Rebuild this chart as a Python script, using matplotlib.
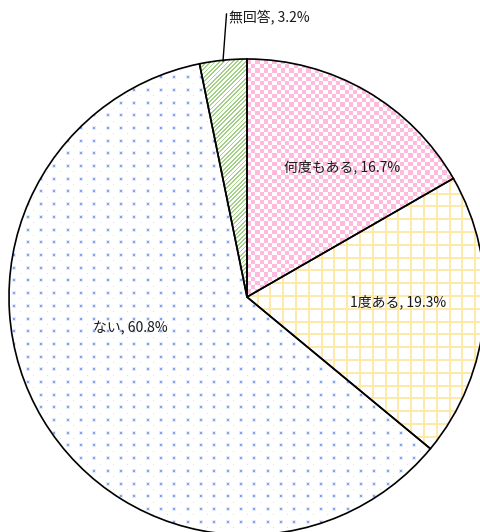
import numpy as np
import matplotlib
matplotlib.use('Agg')
import matplotlib.pyplot as plt

plt.rcParams['font.family'] = ['Noto Sans CJK JP', 'DejaVu Sans']

labels = ['何度もある', '1度ある', 'ない', '無回答']
values = [16.7, 19.3, 60.8, 3.2]

W, H = 480, 532
fig = plt.figure(figsize=(W / 100, H / 100), dpi=100)
ax = fig.add_axes([0, 0, 1, 1])

cx, cy, r = 247, H - 297, 238

wedges, _ = ax.pie(values, startangle=90, counterclock=False, center=(cx, cy), radius=r,
                   wedgeprops=dict(facecolor='white', edgecolor='none', linewidth=0))
for w in wedges:
    w.set_zorder(1)
outl, _ = ax.pie(values, startangle=90, counterclock=False, center=(cx, cy), radius=r,
                 wedgeprops=dict(facecolor='none', edgecolor='black', linewidth=1.2))
for w in outl:
    w.set_zorder(3)

yy, xx = np.mgrid[0:H, 0:W]


def make(mask, color):
    arr = np.ones((H, W, 3))
    c = np.array(matplotlib.colors.to_rgb(color))
    arr[mask] = c
    return arr


pink = make(((np.floor(xx / 4.25) + np.floor(yy / 4.25)) % 2 == 0), '#FFBADD')
yellow = make(((xx % 12.8) < 2) | ((yy % 12.8) < 2), '#FFE9A8')

blue = np.ones((H, W, 3))
c_main = np.array(matplotlib.colors.to_rgb('#86A2EA'))
c_halo = np.array(matplotlib.colors.to_rgb('#E3EAFA'))
c_faint = np.array(matplotlib.colors.to_rgb('#D6DFF8'))
px, py = 13.33, 12.7
for j in range(int(H / py) + 2):
    for i in range(int(W / px) + 2):
        x0 = int(round(i * px))
        y0 = int(round(j * py))
        if 1 <= x0 < W - 2 and 1 <= y0 < H - 2:
            blue[y0 - 1:y0 + 3, x0 - 1:x0 + 3] = c_halo
            blue[y0:y0 + 2, x0:x0 + 2] = c_main
        x1 = int(round(i * px + px / 2))
        y1 = int(round(j * py + py / 2))
        if 0 <= x1 < W and 0 <= y1 < H:
            blue[y1, x1] = c_faint

green = make(((xx + yy) % 4.3) < 1.8, '#A3D186')

for w, img in zip(wedges, [pink, yellow, blue, green]):
    im = ax.imshow(img, extent=(0, W, 0, H), origin='upper', interpolation='nearest', zorder=2)
    im.set_clip_path(w)

ax.set_xlim(0, W)
ax.set_ylim(0, H)
ax.set_aspect('auto')
ax.axis('off')

tc = '#1a1a1a'
fs = 10
ax.text(342, H - 167, f'{labels[0]}, {values[0]}%', ha='center', va='center', fontsize=fs, color=tc, zorder=5)
ax.text(398, H - 302, f'{labels[1]}, {values[1]}%', ha='center', va='center', fontsize=fs, color=tc, zorder=5)
ax.text(130, H - 328, f'{labels[2]}, {values[2]}%', ha='center', va='center', fontsize=fs, color=tc, zorder=5)
ax.plot([223, 226.5], [H - 61, H - 14], color='black', linewidth=1.0, zorder=5)
ax.text(229, H - 18, f'{labels[3]}, {values[3]}%', ha='left', va='center', fontsize=fs, color=tc, zorder=5)

fig.savefig('out.png', dpi=100)
